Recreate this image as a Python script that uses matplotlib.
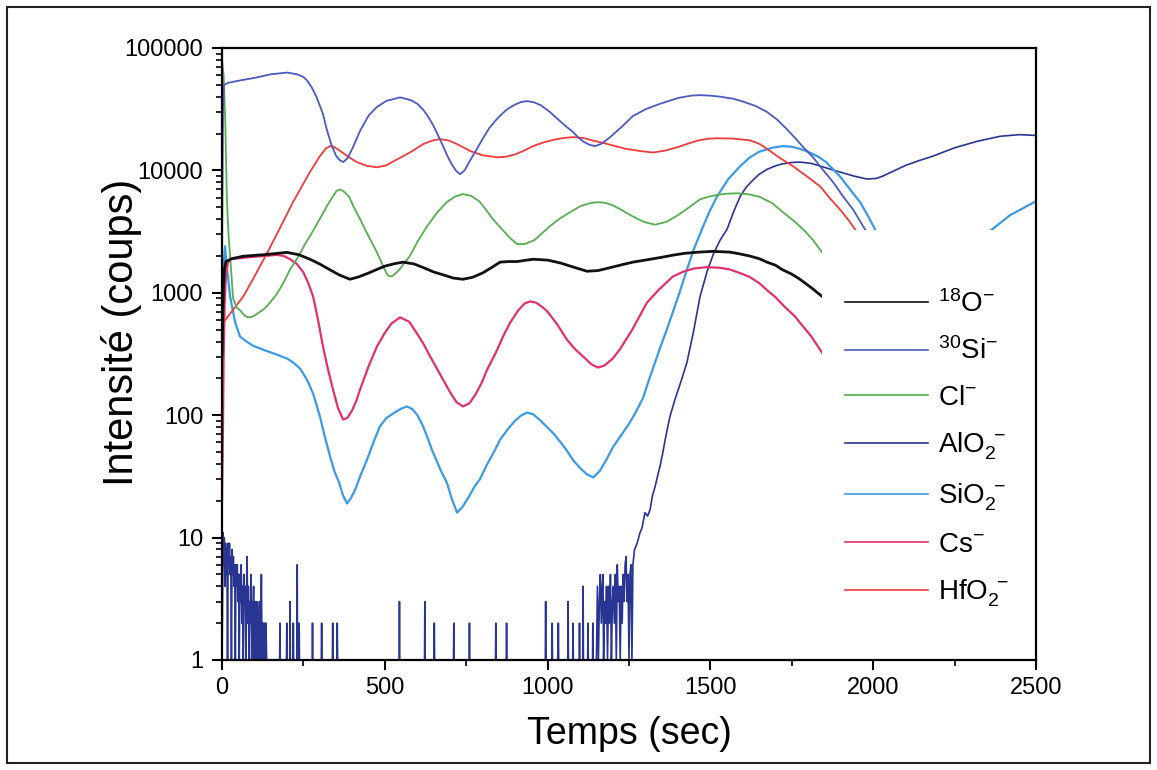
import matplotlib
matplotlib.use("Agg")
import matplotlib.pyplot as plt
from matplotlib.patches import Rectangle
from matplotlib.ticker import FixedLocator, LogLocator, NullFormatter, MultipleLocator
import numpy as np

plt.rcParams['font.family'] = ['Liberation Sans', 'DejaVu Sans']
plt.rcParams['mathtext.fontset'] = 'custom'
plt.rcParams['mathtext.rm'] = 'Liberation Sans'
plt.rcParams['mathtext.it'] = 'Liberation Sans:italic'
plt.rcParams['mathtext.bf'] = 'Liberation Sans:bold'

# ---------------- data ----------------
x_label = "Temps (sec)"
y_label = "Intensité (coups)"
x_ticks = [0, 500, 1000, 1500, 2000, 2500]
y_ticks = [1, 10, 100, 1000, 10000, 100000]
y_tick_labels = ['1', '10', '100', '1000', '10000', '100000']

labels = [r'$^{18}$O$^{-}$', r'$^{30}$Si$^{-}$', r'Cl$^{-}$', r'AlO$_2^{\ -}$',
          r'SiO$_2^{\ -}$', r'Cs$^{-}$', r'HfO$_2^{\ -}$']
colors = ['#111111', '#4a5bbd', '#55ae4f', '#283593', '#3a9ae6', '#e0306f', '#ee3b3b']

o18_t = [0, 3, 5, 8, 12, 30, 65, 130, 170, 199, 235, 270, 300, 330, 360, 393, 420, 450,
         480, 500, 530, 556, 590, 620, 650, 680, 710, 740, 770, 800, 830, 854, 880, 906,
         930, 955, 1000, 1040, 1080, 1121, 1155, 1190, 1230, 1262, 1300, 1350, 1385,
         1420, 1465, 1508, 1560, 1590, 1620, 1650, 1674, 1700, 1720, 1750, 1775, 1810,
         1846]
o18_v = [300, 800, 1200, 1600, 1800, 1900, 1990, 2050, 2100, 2140, 2050, 1880, 1720,
         1550, 1400, 1290, 1350, 1450, 1570, 1650, 1730, 1780, 1720, 1600, 1480, 1400,
         1320, 1290, 1340, 1450, 1620, 1780, 1800, 1800, 1840, 1880, 1850, 1750, 1620,
         1500, 1520, 1600, 1700, 1780, 1850, 1950, 2030, 2100, 2150, 2180, 2150, 2080,
         2000, 1900, 1780, 1680, 1550, 1420, 1290, 1100, 920]

si30_t = [0, 3, 6, 20, 50, 100, 150, 200, 230, 250, 262, 275, 290, 310, 322, 335, 350,
          362, 372, 385, 400, 424, 450, 476, 505, 547, 580, 600, 617, 635, 650, 665, 679,
          693, 705, 718, 731, 745, 760, 783, 800, 820, 837, 854, 875, 900, 920, 937, 958,
          980, 1007, 1040, 1060, 1078, 1095, 1110, 1128, 1146, 1165, 1190, 1230, 1262,
          1300, 1345, 1400, 1440, 1468, 1500, 1530, 1570, 1600, 1640, 1674, 1705, 1735,
          1765, 1790, 1815, 1837, 1877, 1910, 1938, 1981, 2050, 2100]
si30_v = [2000, 30000, 50000, 52000, 54000, 57000, 61000, 63000, 61000, 58000, 54000,
          48000, 40000, 29000, 21500, 16500, 13200, 12100, 11700, 12500, 15000, 21000,
          28000, 33000, 37000, 39500, 37500, 35000, 31600, 27000, 23000, 19000, 15800,
          13000, 11300, 10000, 9300, 10000, 11800, 15000, 18000, 22000, 25000, 28000,
          31500, 34500, 36300, 36800, 36000, 34000, 30000, 25000, 22500, 20600, 18500,
          17200, 16200, 15800, 16500, 18500, 23000, 27800, 31500, 35000, 39000, 40800,
          41200, 40800, 40000, 38500, 36500, 33500, 30000, 26000, 21700, 17800, 15000,
          12800, 10800, 8000, 6000, 4800, 3100, 1500, 900]

cl_t = [0, 5, 10, 15, 20, 25, 34, 45, 55, 70, 80, 95, 110, 130, 147, 165, 180, 195, 209,
        225, 240, 255, 270, 285, 300, 322, 340, 352, 362, 375, 390, 405, 424, 450, 476,
        495, 508, 516, 525, 545, 560, 577, 600, 630, 660, 690, 715, 740, 765, 790, 810,
        832, 860, 885, 906, 930, 960, 985, 1007, 1035, 1060, 1100, 1130, 1152, 1175,
        1200, 1230, 1262, 1295, 1330, 1365, 1400, 1435, 1468, 1495, 1520, 1550, 1582,
        1615, 1650, 1690, 1723, 1760, 1790, 1815, 1843]
cl_v = [80000, 60000, 25000, 5800, 3000, 2000, 900, 760, 720, 650, 630, 640, 680, 740,
        830, 950, 1100, 1300, 1550, 1800, 2100, 2500, 2900, 3400, 4000, 5100, 6100, 6800,
        7000, 6700, 6100, 5000, 4000, 2900, 2140, 1650, 1400, 1360, 1380, 1550, 1750,
        2000, 2600, 3500, 4500, 5500, 6100, 6400, 6200, 5600, 4800, 4000, 3300, 2800,
        2500, 2500, 2700, 3100, 3500, 4000, 4400, 5100, 5400, 5500, 5450, 5200, 4700,
        4200, 3800, 3600, 3800, 4300, 5000, 5800, 6100, 6300, 6450, 6500, 6400, 6100,
        5400, 4550, 3800, 3200, 2700, 2140]

# AlO2- : noisy counts near the floor, isolated spikes, then the rise
alo2_noise_t = [0, 2, 3, 5, 7, 9, 11, 13, 15, 17, 19, 21, 23, 25, 27, 29, 31, 33, 35, 37,
                39, 41, 43, 45, 47, 49, 51, 53, 55, 57, 59, 61, 63, 65, 67, 69, 71, 73,
                75, 77, 79, 81, 83, 85, 87, 89, 91, 93, 95, 97, 99, 101, 103, 105, 107,
                109, 111, 113, 115, 117, 119, 121, 123, 125, 127, 129, 131, 133, 135, 137]
alo2_noise_v = [1, 4, 11, 6, 10, 4, 9, 5, 8, 1, 9, 6, 9, 5, 7, 1, 8, 5, 7, 4,
                6, 1, 6, 4, 6, 3, 5, 1, 5, 3, 6, 2, 4, 1, 5, 3, 4, 1,
                3, 7, 2, 4, 1, 3, 2, 5, 1, 3, 2, 4, 1, 3, 2, 1, 3,
                2, 1, 2, 3, 1, 2, 5, 1, 2, 2, 1, 2, 1, 2, 1]
alo2_spike_t = [178, 199, 209, 219, 231, 237, 278, 306, 340, 354, 545, 623, 652, 712,
                760, 841, 874, 994, 1014, 1033, 1063, 1078, 1098, 1109, 1124, 1139]
alo2_spike_v = [2, 2, 3, 2, 6, 2, 2, 2, 2, 2, 3, 3, 2, 2,
                2, 2, 2, 3, 2, 2, 3, 2, 2, 4, 2, 2]
alo2_rise_t = [1150, 1153, 1156, 1159, 1162, 1165, 1168, 1170, 1172, 1175, 1178, 1181,
               1184, 1187, 1190, 1193, 1196, 1199, 1202, 1205, 1208, 1211, 1214, 1217,
               1220, 1223, 1226, 1229, 1232, 1235, 1238, 1241, 1244, 1247, 1250, 1253,
               1256, 1259, 1262, 1267, 1275, 1284, 1290, 1299, 1307, 1315, 1322, 1330,
               1338, 1345, 1353, 1361, 1368, 1376, 1391, 1410, 1428, 1448, 1468, 1490,
               1510, 1530, 1551, 1570, 1591, 1610, 1630, 1650, 1674, 1700, 1720, 1750,
               1775, 1810, 1840, 1870, 1898, 1940, 1981, 2010, 2030, 2060, 2100, 2140,
               2184, 2250, 2320, 2390, 2450, 2500]
alo2_rise_v = [1, 4, 1, 3, 5, 2, 4, 5, 1, 3, 2, 4,
               1, 4, 2, 5, 1, 3, 4, 2, 5, 1, 6, 3,
               4, 1, 4, 2, 5, 3, 6, 7, 3, 5, 1, 5,
               6, 1, 6, 8, 9, 11, 12, 16, 15, 17, 22, 26,
               32, 38, 48, 63, 78, 98, 134, 190, 270, 480, 930, 1500,
               2100, 2700, 3300, 4500, 6100, 7300, 8300, 9300, 10200, 10900, 11300, 11600,
               11700, 11400, 10800, 10200, 9700, 9000, 8500, 8600, 9000, 9800, 11000, 12000,
               13100, 15300, 17300, 19000, 19600, 19300]

sio2_t = [0, 4, 9, 15, 25, 40, 55, 75, 95, 130, 168, 200, 218, 240, 261, 280, 301, 315,
          332, 345, 360, 372, 384, 396, 410, 425, 445, 465, 485, 505, 530, 550, 568, 585,
          600, 615, 630, 645, 660, 675, 691, 705, 722, 740, 760, 775, 792, 815, 835, 854,
          878, 900, 920, 937, 955, 975, 998, 1020, 1040, 1060, 1078, 1100, 1120, 1140,
          1160, 1180, 1201, 1225, 1250, 1270, 1293, 1310, 1330, 1348, 1366, 1385, 1405,
          1428, 1450, 1474, 1497, 1520, 1555, 1591, 1620, 1650, 1690, 1723, 1750, 1775,
          1800, 1830, 1855, 1877, 1900, 1920, 1940, 1960, 1985, 2012, 2100, 2200, 2280,
          2350, 2420, 2500]
sio2_v = [300, 1500, 2400, 1600, 930, 580, 440, 400, 370, 340, 313, 290, 270, 240, 195,
          150, 97, 68, 46, 35, 28, 22, 19, 21, 25, 32, 43, 60, 81, 95, 105, 113, 118, 112,
          100, 84, 67, 52, 42, 34, 28, 21, 16, 18, 22, 26, 30, 40, 50, 63,
          77, 90, 100, 105, 102, 92, 80, 70, 60, 51, 43, 37, 33, 31,
          35, 43, 55, 68, 85, 105, 138, 190, 270, 370, 500, 700, 1000,
          1550, 2300, 3300, 4600, 6100, 8500, 10800, 12700, 14200, 15300, 15800, 15600,
          15000, 14200, 13000, 11700, 10200, 8800, 7500, 6400, 5500, 4200, 3060, 1800,
          1500, 2000, 3060, 4300, 5600]

cs_t = [0, 3, 5, 8, 12, 18, 25, 80, 130, 168, 190, 209, 230, 250, 265, 280, 295, 310,
        325, 341, 356, 372, 385, 400, 412, 424, 450, 476, 500, 520, 547, 575, 600, 617,
        640, 660, 679, 700, 720, 740, 760, 780, 798, 814, 840, 865, 885, 910, 930, 946,
        965, 985, 1000, 1030, 1059, 1085, 1110, 1135, 1155, 1175, 1200, 1222, 1260, 1305,
        1340, 1385, 1420, 1450, 1489, 1530, 1560, 1600, 1620, 1650, 1674, 1700, 1730,
        1760, 1775, 1810, 1846]
cs_v = [20, 80, 300, 800, 1400, 1750, 1880, 1950, 2000, 2040, 2000, 1880, 1720, 1470,
        1200, 930, 600, 365, 240, 162, 115, 92, 95, 110, 130, 162, 250, 365, 470, 560,
        630, 580, 460, 390, 300, 240, 195, 155, 128, 118, 125, 150, 185, 235, 320, 450,
        570, 720, 820, 850, 830, 760, 700, 550, 415, 345, 300, 260, 245, 255, 290, 345,
        500, 830, 1050, 1360, 1500, 1580, 1620, 1600, 1550, 1420, 1350, 1200, 1050, 920,
        760, 640, 570, 440, 315]

hfo2_t = [0, 20, 65, 95, 138, 168, 218, 270, 300, 320, 332, 345, 370, 390, 414, 445, 476,
          505, 530, 555, 577, 600, 620, 645, 670, 695, 720, 740, 762, 800, 845, 870, 900,
          930, 955, 990, 1020, 1050, 1078, 1110, 1140, 1170, 1200, 1240, 1284, 1324,
          1360, 1400, 1430, 1460, 1490, 1520, 1570, 1622, 1650, 1674, 1710, 1754, 1795,
          1837, 1870, 1898, 1925, 1953, 2010]
hfo2_v = [550, 650, 930, 1290, 2100, 3000, 5500, 9700, 13000, 15200, 15800, 15500, 14000,
          12800, 11700, 10900, 10600, 11000, 12000, 13000, 14000, 15300, 16500, 17500,
          18000, 17600, 16500, 15500, 14400, 13300, 12800, 12900, 13500, 14600, 15800,
          17000, 17800, 18400, 18700, 18400, 17500, 16800, 16000, 15000, 14400, 14000,
          14500, 15500, 16500, 17500, 18100, 18300, 18200, 17600, 16500, 15000, 12800,
          10800, 9000, 7400, 5800, 4800, 3900, 3060, 1800]

# ---------------- assemble AlO2 series ----------------
pairs = list(zip(alo2_noise_t, alo2_noise_v))
for t, v in zip(alo2_spike_t, alo2_spike_v):
    pairs += [(t - 1, 1), (t, v), (t + 1, 1)]
pairs += list(zip(alo2_rise_t, alo2_rise_v))
pairs.sort(key=lambda p: p[0])
alo2_t = [p[0] for p in pairs]
alo2_v = [p[1] for p in pairs]

series = [(o18_t, o18_v), (si30_t, si30_v), (cl_t, cl_v), (alo2_t, alo2_v),
          (sio2_t, sio2_v), (cs_t, cs_v), (hfo2_t, hfo2_v)]
widths = [2.0, 1.3, 1.3, 1.2, 1.6, 1.6, 1.3]

# ---------------- figure ----------------
W, H = 1157, 770
fig = plt.figure(figsize=(W / 100, H / 100), dpi=100)
fig.patches.append(Rectangle((7 / W, 7 / H), (1150 - 7) / W, (763 - 7) / H,
                             transform=fig.transFigure, fill=False,
                             edgecolor='#222222', linewidth=1.5))

ax = fig.add_axes([222 / W, 1 - 660 / H, (1036 - 222) / W, (660 - 48) / H])

order = [3, 4, 5, 6, 2, 1, 0]
handles = [None] * 7
for i in order:
    t, v = series[i]
    ln, = ax.plot(t, v, color=colors[i], lw=widths[i], label=labels[i], zorder=2,
                  solid_joinstyle='round')
    handles[i] = ln

ax.set_yscale('log')
ax.set_xlim(0, 2500)
ax.set_ylim(1, 100000)

ax.set_xticks(x_ticks)
ax.set_xticklabels([str(x) for x in x_ticks])
ax.xaxis.set_minor_locator(MultipleLocator(250))
ax.yaxis.set_major_locator(FixedLocator(y_ticks))
ax.set_yticklabels(y_tick_labels)
ax.yaxis.set_minor_locator(LogLocator(base=10, subs=np.arange(2, 10), numticks=20))
ax.yaxis.set_minor_formatter(NullFormatter())

ax.tick_params(which='major', direction='out', length=7.5, width=1.5, labelsize=17,
               top=False, right=False)
ax.tick_params(axis='x', which='major', pad=5)
ax.tick_params(axis='y', which='major', pad=6)
ax.tick_params(which='minor', direction='out', length=4.5, width=1.2, top=False, right=False)
for s in ax.spines.values():
    s.set_linewidth(1.6)
    s.set_zorder(3)

ax.set_xlabel(x_label, fontsize=27)
ax.set_ylabel(y_label, fontsize=30)
ax.xaxis.set_label_coords(0.5, -0.092)
ax.yaxis.set_label_coords(-0.098, 0.535)

# opaque legend panel (hides the traces behind it, as in the original)
ax.add_patch(Rectangle((0.737, 0.0), 0.263, 0.703, transform=ax.transAxes,
                       facecolor='white', edgecolor='none', zorder=2.5))

leg = ax.legend(handles, labels, loc='upper left', bbox_to_anchor=(0.765, 0.604),
                frameon=False, fontsize=20, handlelength=3.0, handletextpad=0.35,
                labelspacing=0.70, borderpad=0, borderaxespad=0)
leg.set_zorder(5)
for ln in leg.get_lines():
    ln.set_linewidth(1.2)

fig.savefig('out.png', dpi=100)
